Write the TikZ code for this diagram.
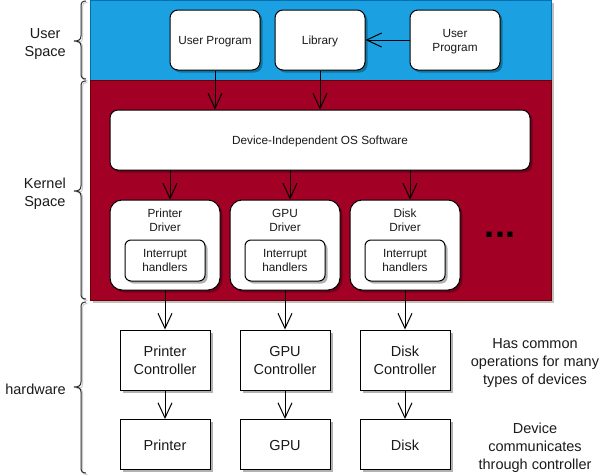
\documentclass[tikz,border=0pt]{standalone}
\usepackage{fontspec}
\setmainfont{Liberation Sans}
\usetikzlibrary{arrows.meta,shadows}
\definecolor{ublue}{HTML}{1BA1E2}
\definecolor{ubluedk}{HTML}{006EAF}
\definecolor{kred}{HTML}{A20025}
\definecolor{kreddk}{HTML}{6F0000}
\definecolor{txt}{HTML}{1A1A1A}
\newcommand\mysmall{\fontsize{11.8}{14}\selectfont}
\newcommand\mybig{\fontsize{14.5}{18}\selectfont}
\newcommand\mytxt[2][4.2]{\raisebox{-#1pt}[0pt][0pt]{\begin{tabular}{@{}c@{}}#2\end{tabular}}}
\newcommand\drawbrace[3]{%
  \draw[bracesh] (87.5,#1+1.5) .. controls (84,#1+1.5) and (82.5,#1+3) .. (82.5,#1+6.5) -- (82.5,#2-3.5) .. controls (82.5,#2) and (81,#2+1.5) .. (78,#2+1.5) .. controls (81,#2+1.5) and (82.5,#2+3) .. (82.5,#2+6.5) -- (82.5,#3-3.5) .. controls (82.5,#3) and (84,#3+1.5) .. (87.5,#3+1.5);
  \draw[bracesty] (86,#1) .. controls (82.5,#1) and (81,#1+1.5) .. (81,#1+5) -- (81,#2-5) .. controls (81,#2-1.5) and (79,#2) .. (74,#2) .. controls (79,#2) and (81,#2+1.5) .. (81,#2+5) -- (81,#3-5) .. controls (81,#3-1.5) and (82.5,#3) .. (86,#3);}
\begin{document}
\begin{tikzpicture}[x=1pt,y=-1pt,
  shad/.style={drop shadow={shadow xshift=2.5pt,shadow yshift=-2.5pt,opacity=0.3,fill=black}},
  bgrect/.style={rectangle,inner sep=0,line width=0.8pt,
    drop shadow={shadow xshift=3pt,shadow yshift=-3pt,opacity=0.25,fill=black}},
  rbox/.style={rectangle,rounded corners=8pt,draw=black,fill=white,line width=1pt,
    inner sep=0,font=\mysmall,text=txt,shad},
  hbox/.style={rectangle,draw=black,fill=white,line width=1pt,inner sep=0,
    font=\mybig,text=txt,minimum width=90pt,shad},
  dlab/.style={anchor=north,yshift=-9.5pt,inner sep=0,align=center,font=\mysmall,text=txt},
  note/.style={align=center,font=\mybig,text=txt,inner sep=0},
  side/.style={align=center,font=\mybig,text=txt,inner sep=0,anchor=east},
  arr/.style={-{Straight Barb[length=15pt,width=14pt]},line width=1pt,draw=black},
  bracesty/.style={draw=black!85,line width=1pt},
  bracesh/.style={draw=black!20,line width=1pt}]
\useasboundingbox (0,0) rectangle (614,475);

% background regions
\node[bgrect,fill=ublue,draw=ubluedk,minimum width=461pt,minimum height=80pt] (ubg) at (320.5,40) {};
\node[bgrect,fill=kred,draw=kreddk,minimum width=461pt,minimum height=220pt] (kbg) at (320.5,190) {};

% user space
\node[rbox,minimum width=90pt,minimum height=60pt] (up1) at (215,40) {\mytxt{User Program}};
\node[rbox,minimum width=90pt,minimum height=60pt] (lib) at (320,40) {\mytxt{Library}};
\node[rbox,minimum width=90pt,minimum height=60pt] (up2) at (455,40) {\mytxt{User\\Program}};

% kernel space
\node[rbox,minimum width=420pt,minimum height=60pt] (dios) at (320,140) {\mytxt{Device-Independent OS Software}};
\node[rbox,rounded corners=12pt,minimum width=110pt,minimum height=90pt,label={[dlab]north:Printer\\Driver}] (pdrv) at (165,245) {};
\node[rbox,rounded corners=12pt,minimum width=110pt,minimum height=90pt,label={[dlab]north:GPU\\Driver}] (gdrv) at (285,245) {};
\node[rbox,rounded corners=12pt,minimum width=110pt,minimum height=90pt,label={[dlab]north:Disk\\Driver}] (ddrv) at (405,245) {};
\node[rbox,rounded corners=6pt,minimum width=80pt,minimum height=41pt] (pint) at (165,260.5) {\mytxt{Interrupt\\handlers}};
\node[rbox,rounded corners=6pt,minimum width=80pt,minimum height=41pt] (gint) at (285,260.5) {\mytxt{Interrupt\\handlers}};
\node[rbox,rounded corners=6pt,minimum width=80pt,minimum height=41pt] (dint) at (405,260.5) {\mytxt{Interrupt\\handlers}};
\node[inner sep=0,font=\fontsize{36}{36}\selectfont\bfseries] (dots) at (500,234.5) {...};

% hardware
\node[hbox,minimum height=60pt] (pctl) at (165,360) {\mytxt[5.8]{Printer\\Controller}};
\node[hbox,minimum height=60pt] (gctl) at (285,360) {\mytxt[5.8]{GPU\\Controller}};
\node[hbox,minimum height=60pt] (dctl) at (405,360) {\mytxt[5.8]{Disk\\Controller}};
\node[hbox,minimum height=50pt] (pdev) at (165,444.5) {\mytxt[5.8]{Printer}};
\node[hbox,minimum height=50pt] (gdev) at (285,444.5) {\mytxt[5.8]{GPU}};
\node[hbox,minimum height=50pt] (ddev) at (405,444.5) {\mytxt[5.8]{Disk}};

\node[note] (n1) at (535,363) {Has common\\operations for many\\types of devices};
\node[note] (n2) at (535,448) {Device\\communicates\\through controller};

% side labels and braces
\node[side] (lus) at (66,44) {User\\Space};
\node[side] (lks) at (66,194) {Kernel\\Space};
\node[side] (lhw) at (66,389) {hardware};
\drawbrace{1}{41}{79}
\drawbrace{81}{191}{299}
\drawbrace{302}{387}{473}

% connectors
\draw[arr] (up1) -- (up1 |- dios.north);
\draw[arr] (lib) -- (lib |- dios.north);
\draw[arr] (up2) -- (lib);
\draw[arr] ([xshift=5pt]pdrv.north |- dios.south) -- ([xshift=5pt]pdrv.north);
\draw[arr] ([xshift=5pt]gdrv.north |- dios.south) -- ([xshift=5pt]gdrv.north);
\draw[arr] ([xshift=5pt]ddrv.north |- dios.south) -- ([xshift=5pt]ddrv.north);
\draw[arr] (pdrv) -- (pctl);
\draw[arr] (gdrv) -- (gctl);
\draw[arr] (ddrv) -- (dctl);
\draw[arr] (pctl) -- (pdev);
\draw[arr] (gctl) -- (gdev);
\draw[arr] (dctl) -- (ddev);
\end{tikzpicture}
\end{document}
